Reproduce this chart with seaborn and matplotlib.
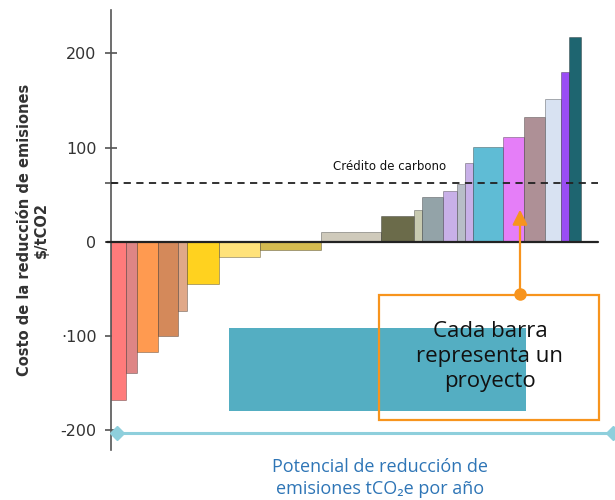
import numpy as np
import matplotlib
matplotlib.use("Agg")
import matplotlib.pyplot as plt
import seaborn as sns
from matplotlib.patches import Rectangle

# project data: abatement potential (width) and cost $/tCO2 (height)
potential = [15, 11, 21, 20, 9, 32, 41, 61, 60, 33, 8, 21, 14, 8, 8, 30, 21, 21, 16, 8, 12]
cost = [-168, -139, -117, -100, -73, -45, -16, -9, 10, 27, 34, 47, 54, 61, 84, 101, 111, 132, 152, 180, 217]
colors = ['#ff7b7b', '#de8585', '#ff9a50', '#d4895a', '#e0a888', '#ffd21f', '#ffe27a',
          '#d4bb50', '#cfcabb', '#6b6b4a', '#c8cab0', '#93a3a8', '#c8b0e8', '#b8bec8',
          '#c8b0e8', '#5fbcd5', '#e57ef8', '#ae9096', '#d8e2f2', '#9a4df5', '#1e6570']
carbon_credit = 62
yticks = [-200, -100, 0, 100, 200]
yticklabels = ['-200', '·100', '0', '100', '200']

sns.set_style('white')
plt.rcParams['font.family'] = ['DejaVu Sans']

fig = plt.figure(figsize=(6.15, 5), dpi=100)
ax = fig.add_axes([111 / 615, 0.10, 502 / 615, 0.88])

left = np.concatenate([[0], np.cumsum(potential)[:-1]])
ax.bar(left, cost, width=potential, align='edge', color=colors,
       edgecolor=(0, 0, 0, 0.3), linewidth=0.7, zorder=2)

ax.set_xlim(0, 502)
ax.set_ylim(-221, 246)

# zero line and carbon credit line
ax.plot([-4, 487], [0, 0], color='#222222', lw=1.6, clip_on=False, zorder=3)
ax.plot([0, 487], [carbon_credit, carbon_credit], color='#222222', lw=1.3,
        ls=(0, (4, 3)), zorder=4)
ax.text(222, carbon_credit + 11, 'Crédito de carbono', fontsize=8.5, ha='left', va='bottom',
        family=['Liberation Sans Narrow', 'DejaVu Sans'], color='#111111')

# spines and ticks
for s in ['top', 'right', 'bottom']:
    ax.spines[s].set_visible(False)
ax.spines['left'].set_color('#555555')
ax.spines['left'].set_linewidth(1.2)
ax.set_xticks([])
ax.set_yticks(yticks)
ax.set_yticklabels(yticklabels)
ax.set_yticks([carbon_credit], minor=True)
ax.tick_params(axis='y', which='both', direction='inout', length=9, width=1.1,
               color='#444444', labelsize=11.5, labelcolor='#333333', pad=6, left=True)

ax.set_ylabel('Costo de la reducción de emisiones\n\\$/tCO2', fontsize=10.5, fontweight='bold',
              color='#333333', labelpad=8)

# overlay decorations
ax.add_patch(Rectangle((118, -180), 297, 88, facecolor='#54aec2', edgecolor='none', zorder=5))
ax.add_patch(Rectangle((268, -189), 220, 133, facecolor='none', edgecolor='#f7941d',
                       lw=1.6, zorder=6, clip_on=False))
ax.annotate('', xy=(409, 37), xytext=(409, -55),
            arrowprops=dict(arrowstyle='-|>,head_length=0.9,head_width=0.45', color='#f7941d', lw=1.6),
            zorder=7)
ax.plot([409], [-55], 'o', color='#f7941d', ms=8, zorder=7)
ax.text(379, -122, 'Cada barra\nrepresenta un\nproyecto', fontsize=16, ha='center', va='center',
        family=['Open Sans', 'DejaVu Sans'], color='#111111', linespacing=1.25, zorder=8)

# x "axis" arrow and label
ax.plot([6, 502], [-203, -203], color='#8ecfdc', lw=2.2, clip_on=False, zorder=6)
ax.plot([6, 502], [-203, -203], 'D', color='#8ecfdc', ms=7, clip_on=False, zorder=6)
fig.text(380 / 615, 1 - 478 / 500, 'Potencial de reducción de\nemisiones tCO₂e por año',
         ha='center', va='center', fontsize=13, color='#2e75b6',
         family=['Open Sans', 'DejaVu Sans'], linespacing=1.3)

fig.savefig('out.png', dpi=100)
